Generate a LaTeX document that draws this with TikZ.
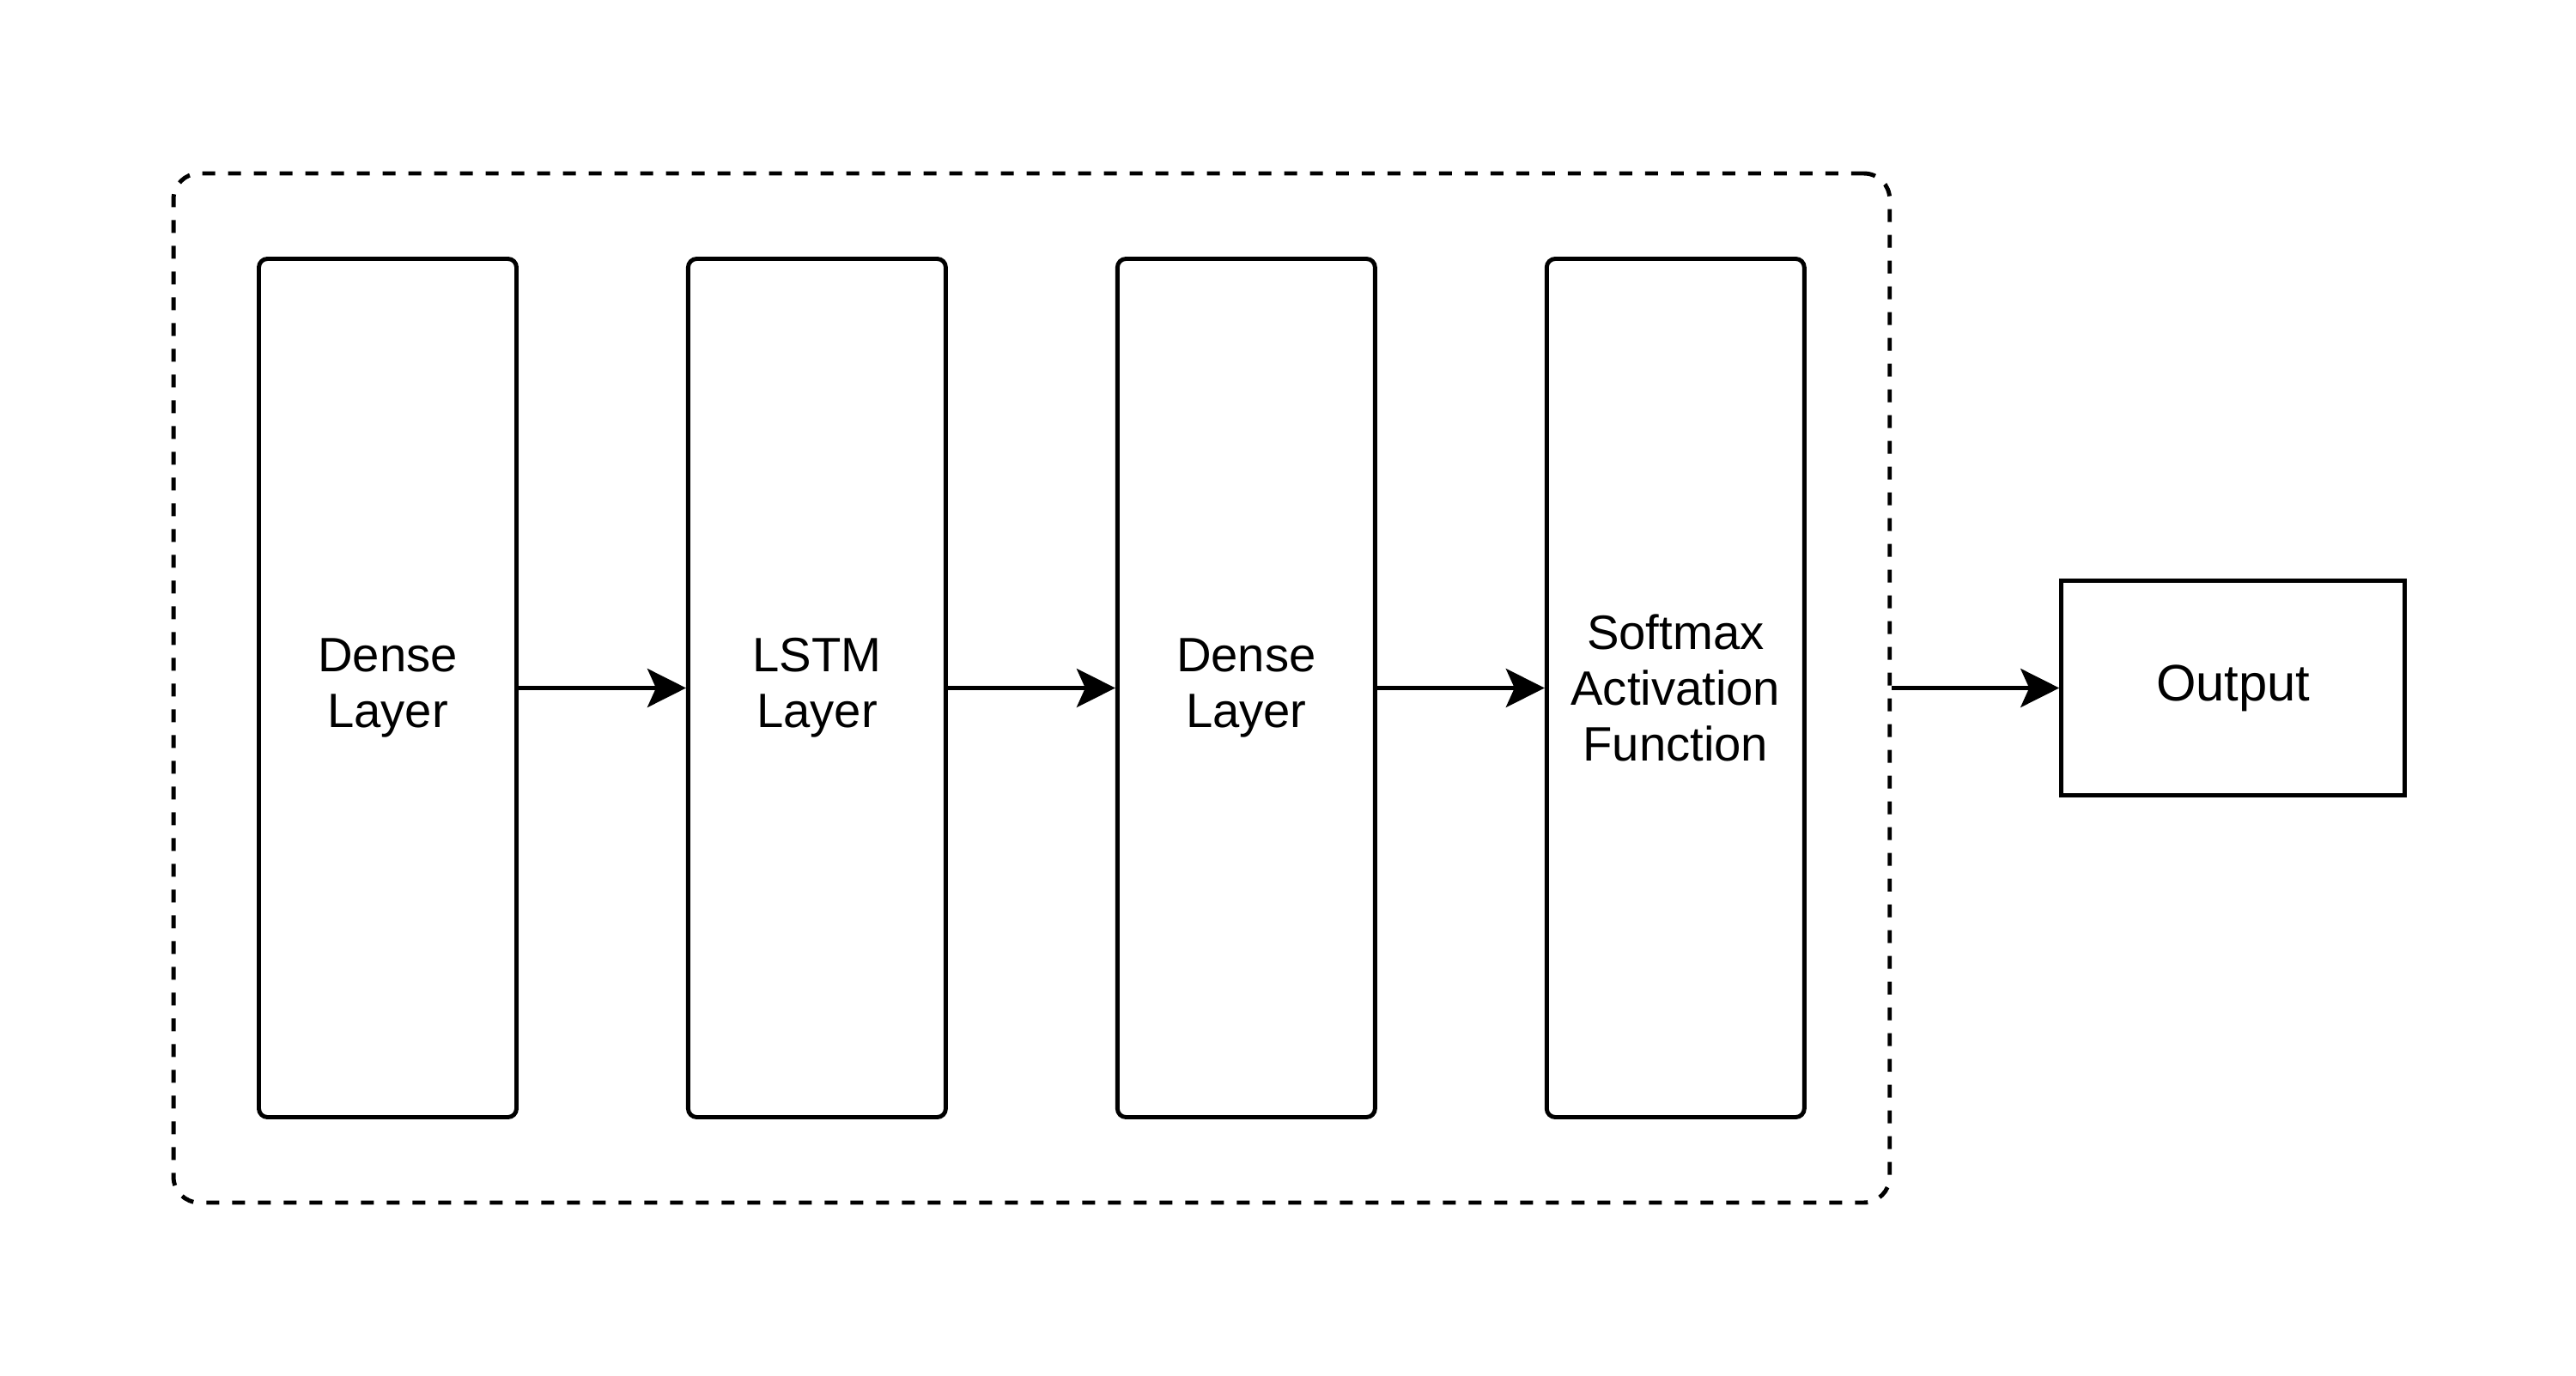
\documentclass[tikz,border=0pt]{standalone}
\usepackage{fontspec}
\setmainfont{Liberation Sans}
\usetikzlibrary{positioning, fit}
\usetikzlibrary{arrows.meta}

\begin{document}
\begin{tikzpicture}[
  layer/.style={draw, line width=1.4pt, rounded corners=1mm, minimum width=3cm, minimum height=10cm, inner sep=0pt, align=center, font=\fontsize{16}{18.5}\selectfont},
  outbox/.style={draw, line width=1.4pt, minimum width=4cm, minimum height=2.5cm, inner sep=0pt, font=\fontsize{17}{20}\selectfont},
  flow/.style={-{Stealth[length=4.5mm, width=4.5mm, inset=1mm]}, line width=1.3pt},
]
\useasboundingbox (0,0) rectangle (30,-16.03);

% layers of the model
\node[layer] (dense1) at (4.515,-8.015) {Dense\\Layer};
\node[layer, right=1.95cm of dense1] (lstm) {LSTM\\Layer};
\node[layer, right=1.95cm of lstm] (dense2) {Dense\\Layer};
\node[layer, right=1.95cm of dense2] (softmax) {Softmax\\Activation\\Function};

% dashed frame round the model
\node[draw, line width=1.4pt, dash pattern=on 1.5mm off 1.5mm, rounded corners=3mm, inner sep=0.97cm, fit=(dense1)(softmax)] (model) {};

\node[outbox, right=1.95cm of model] (output) {Output};

\draw[flow] (dense1) -- (lstm);
\draw[flow] (lstm) -- (dense2);
\draw[flow] (dense2) -- (softmax);
\draw[flow] (model.east) -- (output.west);
\end{tikzpicture}
\end{document}
